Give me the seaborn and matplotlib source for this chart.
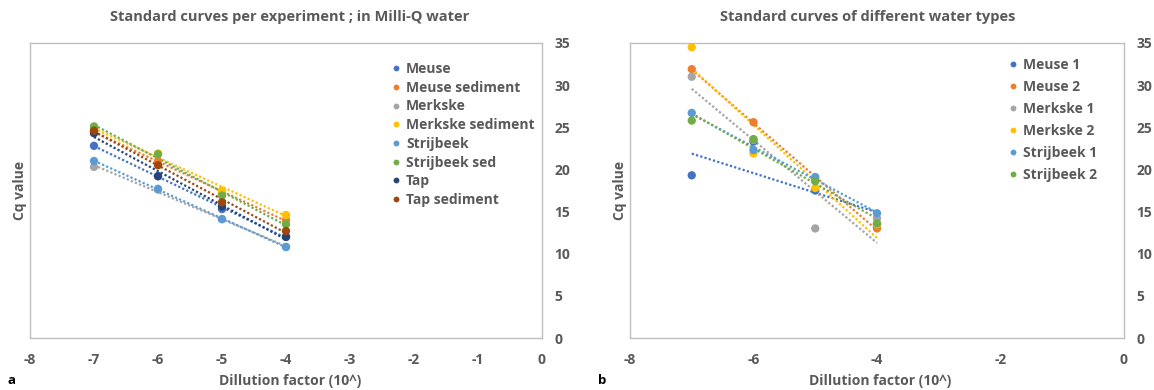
import numpy as np
import pandas as pd
import matplotlib
matplotlib.use("Agg")
import matplotlib.pyplot as plt
import seaborn as sns

# ---------------- data ----------------
dilution = [-7, -6, -5, -4]

# panel a: standard curves per experiment (Milli-Q water)
series_a = ["Meuse", "Meuse sediment", "Merkske", "Merkske sediment",
            "Strijbeek", "Strijbeek sed", "Tap", "Tap sediment"]
a_meuse = [22.8, 19.2, 15.3, 12.0]
a_meuse_sed = [24.5, 21.0, 17.2, 14.0]
a_merkske = [20.3, 17.6, 14.1, 10.8]
a_merkske_sed = [24.7, 21.9, 17.5, 14.6]
a_strijbeek = [21.0, 17.7, 14.1, 10.8]
a_strijbeek_sed = [25.1, 21.8, 16.9, 13.5]
a_tap = [24.3, 19.2, 15.6, 12.0]
a_tap_sed = [24.6, 20.5, 16.1, 12.7]
values_a = [a_meuse, a_meuse_sed, a_merkske, a_merkske_sed,
            a_strijbeek, a_strijbeek_sed, a_tap, a_tap_sed]

# panel b: standard curves of different water types
series_b = ["Meuse 1", "Meuse 2", "Merkske 1", "Merkske 2",
            "Strijbeek 1", "Strijbeek 2"]
b_meuse1 = [19.3, 23.3, 17.5, 13.5]
b_meuse2 = [31.9, 25.6, 18.8, 13.0]
b_merkske1 = [31.0, 23.5, 13.0, 14.2]
b_merkske2 = [34.5, 21.9, 17.8, 13.5]
b_strijbeek1 = [26.7, 22.3, 19.1, 14.8]
b_strijbeek2 = [25.8, 23.6, 18.6, 13.6]
values_b = [b_meuse1, b_meuse2, b_merkske1, b_merkske2, b_strijbeek1, b_strijbeek2]

x_ticks_a = [-8, -7, -6, -5, -4, -3, -2, -1, 0]
x_ticks_b = [-8, -6, -4, -2, 0]
y_ticks = [0, 5, 10, 15, 20, 25, 30, 35]

colors_a = ["#4472C4", "#ED7D31", "#A5A5A5", "#FFC000",
            "#5B9BD5", "#70AD47", "#264478", "#9E480E"]
colors_b = colors_a[:6]

# ---------------- style ----------------
sns.set_style("white")
plt.rcParams["font.family"] = ["Open Sans", "DejaVu Sans"]
TXT = "#595959"
EDGE = "#BFBFBF"

W, H = 1154, 390
fig = plt.figure(figsize=(W / 100, H / 100), dpi=100)


def px_axes(x0, x1, ytop, ybot):
    return fig.add_axes([x0 / W, 1 - ybot / H, (x1 - x0) / W, (ybot - ytop) / H])


def draw(ax, names, vals, colors, xticks, leg_anchor, leg_spacing):
    long = pd.DataFrame({
        "x": np.tile(dilution, len(names)),
        "y": np.concatenate(vals),
        "series": np.repeat(names, len(dilution)),
    })
    for name, color in zip(names, colors):
        sub = long[long["series"] == name]
        sns.regplot(data=sub, x="x", y="y", ax=ax, scatter=False, ci=None,
                    truncate=True, color=color,
                    line_kws=dict(ls=(0, (1, 1)), lw=1.6, zorder=2))
    sns.scatterplot(data=long, x="x", y="y", hue="series", hue_order=names,
                    palette=colors, s=36, edgecolor="none", linewidth=0,
                    ax=ax, zorder=3, legend=True)
    ax.set_xlim(-8, 0)
    ax.set_ylim(0, 35)
    ax.set_xticks(xticks)
    ax.set_xticklabels([str(t) for t in xticks])
    ax.set_yticks(y_ticks)
    ax.yaxis.tick_right()
    ax.tick_params(axis="both", length=0, labelsize=10, colors=TXT)
    ax.tick_params(axis="x", pad=11)
    ax.tick_params(axis="y", pad=9)
    for lab in ax.get_xticklabels() + ax.get_yticklabels():
        lab.set_fontweight("bold")
    for sp in ax.spines.values():
        sp.set_color(EDGE)
        sp.set_linewidth(1.0)
    ax.set_xlabel("")
    ax.set_ylabel("")
    handles, labels = ax.get_legend_handles_labels()
    ax.legend(handles, labels, loc="upper left",
              bbox_to_anchor=(leg_anchor[0] / W, 1 - leg_anchor[1] / H),
              bbox_transform=fig.transFigure, frameon=False,
              prop=dict(size=10, weight="bold"), labelcolor=TXT,
              markerscale=0.7, handletextpad=0.1, labelspacing=leg_spacing,
              borderpad=0, borderaxespad=0, handlelength=1.2)


ax1 = px_axes(30, 542, 43, 338)
draw(ax1, series_a, values_a, colors_a, x_ticks_a, (388, 62), 0.34)

ax2 = px_axes(630, 1124, 43, 338)
draw(ax2, series_b, values_b, colors_b, x_ticks_b, (1005, 58), 0.57)

# titles, axis labels, panel letters
title_kw = dict(ha="center", va="center", fontsize=10.5, fontweight="bold", color=TXT)
fig.text(290 / W, 1 - 17 / H, "Standard curves per experiment ; in Milli-Q water", **title_kw)
fig.text(868 / W, 1 - 17 / H, "Standard curves of different water types", **title_kw)

lab_kw = dict(ha="center", va="center", fontsize=10, fontweight="bold", color=TXT)
fig.text(290 / W, 1 - 381 / H, "Dillution factor (10^)", **lab_kw)
fig.text(880 / W, 1 - 381 / H, "Dillution factor (10^)", **lab_kw)
fig.text(20 / W, 1 - 190 / H, "Cq value", rotation=90, **lab_kw)
fig.text(620 / W, 1 - 190 / H, "Cq value", rotation=90, **lab_kw)

fig.text(12 / W, 1 - 381 / H, "a", ha="center", va="center", fontsize=9.5,
         fontweight="bold", color="black")
fig.text(602 / W, 1 - 381 / H, "b", ha="center", va="center", fontsize=9.5,
         fontweight="bold", color="black")

fig.savefig("out.png", dpi=100)
